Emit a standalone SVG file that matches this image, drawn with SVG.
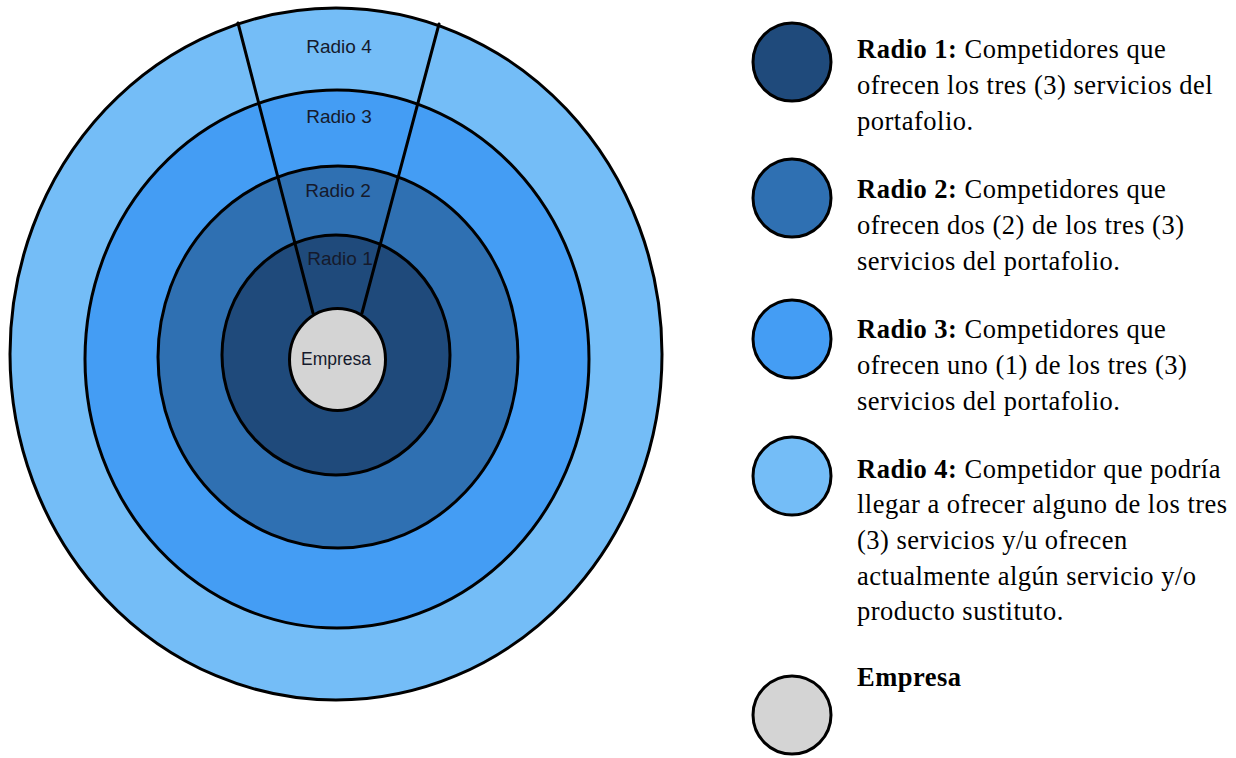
<svg xmlns="http://www.w3.org/2000/svg" width="1236" height="758" viewBox="0 0 1236 758">
  <style>
    .ring { stroke: #000; stroke-width: 3; }
    .r4 { fill: #74BDF7; }
    .r3 { fill: #449DF4; }
    .r2 { fill: #2F70B2; }
    .r1 { fill: #1F4A7B; }
    .emp { fill: #D4D4D4; }
    .lbl { font-family: "Liberation Sans", Arial, sans-serif; font-size: 19px; fill: #151a2c; text-anchor: middle; }
    .lbl-emp { font-family: "Liberation Sans", Arial, sans-serif; font-size: 17.5px; fill: #151a2c; text-anchor: middle; }
    .legend { font-family: "Liberation Serif", "Times New Roman", serif; font-size: 26.5px; letter-spacing: 0.5px; fill: #000; }
    .legend .b { font-weight: bold; }
    .sector { stroke: #000; stroke-width: 3; fill: none; stroke-linecap: round; }
  </style>

  <!-- Concentric competitor radii -->
  <g id="radio-4">
    <ellipse class="ring r4" cx="336" cy="354" rx="326" ry="346"/>
  </g>
  <g id="radio-3">
    <ellipse class="ring r3" cx="337" cy="359" rx="252" ry="269"/>
  </g>
  <g id="radio-2">
    <ellipse class="ring r2" cx="338" cy="357" rx="180" ry="191"/>
  </g>
  <g id="radio-1">
    <ellipse class="ring r1" cx="336" cy="355" rx="114" ry="120"/>
  </g>

  <!-- Sector dividers for the labels -->
  <g id="connectors">
    <line class="sector" x1="238" y1="23" x2="313" y2="313"/>
    <line class="sector" x1="439" y1="24" x2="362" y2="313"/>
  </g>

  <g id="empresa">
    <ellipse class="ring emp" cx="337.5" cy="359.5" rx="48" ry="51"/>
    <text class="lbl-emp" x="336" y="365">Empresa</text>
  </g>

  <g id="radio-labels">
    <text class="lbl" x="339" y="53">Radio 4</text>
    <text class="lbl" x="339" y="123">Radio 3</text>
    <text class="lbl" x="338" y="197">Radio 2</text>
    <text class="lbl" x="340" y="265">Radio 1</text>
  </g>

  <!-- Legend -->
  <g id="legend-radio-1">
    <circle class="ring r1" cx="792" cy="62" r="39"/>
    <text class="legend" x="857" y="58"><tspan class="b">Radio 1:</tspan> Competidores que</text>
    <text class="legend" x="857" y="94">ofrecen los tres (3) servicios del</text>
    <text class="legend" x="857" y="130">portafolio.</text>
  </g>
  <g id="legend-radio-2">
    <circle class="ring r2" cx="792" cy="198" r="39"/>
    <text class="legend" x="857" y="198"><tspan class="b">Radio 2:</tspan> Competidores que</text>
    <text class="legend" x="857" y="234">ofrecen dos (2) de los tres (3)</text>
    <text class="legend" x="857" y="270">servicios del portafolio.</text>
  </g>
  <g id="legend-radio-3">
    <circle class="ring r3" cx="792" cy="339" r="39"/>
    <text class="legend" x="857" y="338"><tspan class="b">Radio 3:</tspan> Competidores que</text>
    <text class="legend" x="857" y="374">ofrecen uno (1) de los tres (3)</text>
    <text class="legend" x="857" y="410">servicios del portafolio.</text>
  </g>
  <g id="legend-radio-4">
    <circle class="ring r4" cx="792" cy="476" r="39"/>
    <text class="legend" x="857" y="478"><tspan class="b">Radio 4:</tspan> Competidor que podría</text>
    <text class="legend" x="857" y="513">llegar a ofrecer alguno de los tres</text>
    <text class="legend" x="857" y="549">(3) servicios y/u ofrecen</text>
    <text class="legend" x="857" y="585">actualmente algún servicio y/o</text>
    <text class="legend" x="857" y="620">producto sustituto.</text>
  </g>
  <g id="legend-empresa">
    <circle class="ring emp" cx="792" cy="715" r="39"/>
    <text class="legend" x="857" y="686"><tspan class="b">Empresa</tspan></text>
  </g>
</svg>
